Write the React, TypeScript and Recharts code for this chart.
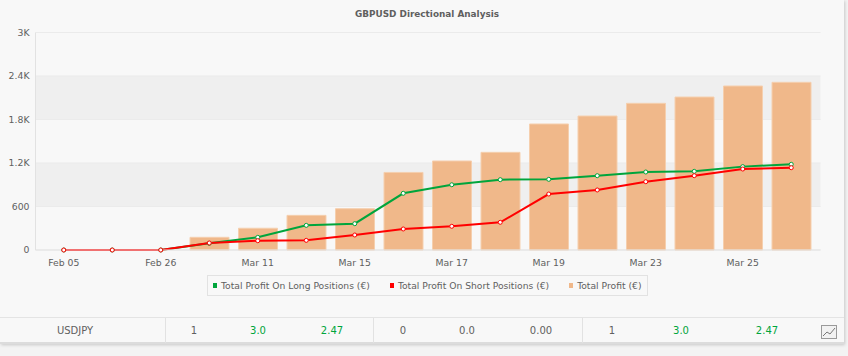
import {
  ComposedChart,
  Bar,
  Line,
  XAxis,
  YAxis,
  CartesianGrid,
  Legend,
} from 'recharts'

const DATES = ['Feb 05', 'Feb 19', 'Feb 26', 'Mar 04', 'Mar 11', 'Mar 14', 'Mar 15', 'Mar 16', 'Mar 17', 'Mar 18', 'Mar 19', 'Mar 22', 'Mar 23', 'Mar 24', 'Mar 25', 'Mar 26']
const LONG_PROFIT = [0, 0, 0, 92, 175, 340, 363, 782, 900, 970, 975, 1025, 1076, 1085, 1150, 1182]
const SHORT_PROFIT = [0, 0, 0, 97, 128, 133, 207, 290, 327, 382, 772, 828, 942, 1025, 1117, 1135]
const TOTAL_PROFIT = [0, 0, 0, 175, 300, 478, 570, 1070, 1228, 1347, 1738, 1848, 2023, 2110, 2262, 2313]
const Y_TICKS = [0, 600, 1200, 1800, 2400, 3000]
const Y_LABELS = ['0', '600', '1.2K', '1.8K', '2.4K', '3K']

const LEGEND_ITEMS = [
  { label: 'Total Profit On Long Positions (€)', color: '#00a53c' },
  { label: 'Total Profit On Short Positions (€)', color: '#ff0000' },
  { label: 'Total Profit (€)', color: '#f0b88a' },
]

const ROW_NAME = 'USDJPY'
const ROW_CELLS = ['1', '3.0', '2.47', '0', '0.0', '0.00', '1', '3.0', '2.47']
const ROW_CENTERS = [194, 258, 332, 403, 467, 541, 612, 681, 767]
const ROW_DIVIDERS = [165, 373, 582]

const FONT = '"DejaVu Sans", sans-serif'
const TEXT = '#5f5f5f'
const SMALL = 9.3

const data = DATES.map((date, i) => ({
  date,
  long: LONG_PROFIT[i],
  short: SHORT_PROFIT[i],
  total: TOTAL_PROFIT[i],
}))

function ChartLegend() {
  return (
    <div
      style={{
        display: 'flex',
        alignItems: 'center',
        gap: 20,
        boxSizing: 'border-box',
        width: 441,
        height: 21,
        padding: '0 5px',
        border: '1px solid #e2e2e2',
        fontFamily: FONT,
        fontSize: 9.2,
        color: TEXT,
        whiteSpace: 'nowrap',
      }}
    >
      {LEGEND_ITEMS.map((item) => (
        <span key={item.label} style={{ display: 'flex', alignItems: 'center' }}>
          <span style={{ width: 4, height: 5, marginRight: 4, background: item.color }} />
          {item.label}
        </span>
      ))}
    </div>
  )
}

function TableRow() {
  const cell = (text: string, x: number) => (
    <span
      key={`${text}-${x}`}
      style={{
        position: 'absolute',
        left: x - 40,
        width: 80,
        top: 7,
        textAlign: 'center',
        color: text.includes('.') && text !== '0.0' && text !== '0.00' ? '#00a53c' : TEXT,
      }}
    >
      {text}
    </span>
  )
  return (
    <div
      style={{
        position: 'absolute',
        left: 0,
        top: 317,
        width: 844,
        height: 27,
        boxSizing: 'border-box',
        borderTop: '1px solid #e4e4e4',
        borderBottom: '2px solid #dcdcdc',
        fontFamily: FONT,
        fontSize: 10,
      }}
    >
      {cell(ROW_NAME, 75)}
      {ROW_CELLS.map((text, i) => cell(text, ROW_CENTERS[i]))}
      {ROW_DIVIDERS.map((x) => (
        <span key={x} style={{ position: 'absolute', left: x, top: 0, width: 1, height: 25, background: '#e2e2e2' }} />
      ))}
      {/* small chart button at the end of the row */}
      <svg width={16} height={14} style={{ position: 'absolute', left: 821, top: 7 }}>
        <rect x={0.5} y={0.5} width={15} height={13} fill="#f2f2f2" stroke="#9a9a9a" />
        <path d="M2 11 L6 7 L9 9 L14 3" fill="none" stroke="#777" />
      </svg>
    </div>
  )
}

export default function App() {
  return (
    <div style={{ position: 'absolute', left: 0, top: 0, width: 848, height: 356, background: '#f3f3f3', overflow: 'hidden' }}>
      <div
        style={{
          position: 'absolute',
          left: 0,
          top: 0,
          width: 844,
          height: 344,
          background: '#f8f8f8',
          boxShadow: '1px 1px 3px rgba(0,0,0,0.18)',
        }}
      />

      <div style={{ position: 'absolute', left: 0, top: 0 }}>
        <ComposedChart
          width={848}
          height={356}
          data={data}
          barCategoryGap={0}
          margin={{ top: 32.5, right: 27.5, bottom: 55, left: 5.5 }}
        >
          {/* first fill is the strip above the plot, grid adds it for the half pixel top */}
          <CartesianGrid
            vertical={false}
            stroke="#ebebeb"
            horizontalFill={['transparent', '#f8f8f8', '#efefef', '#f8f8f8', '#efefef', '#f8f8f8']}
            fillOpacity={1}
          />
          <XAxis
            dataKey="date"
            height={30}
            interval={1}
            padding={{ left: 4, right: 5 }}
            tickLine={false}
            axisLine={{ stroke: '#e2e2e2' }}
            tick={{ fontFamily: FONT, fontSize: SMALL, fill: TEXT }}
            tickMargin={3}
          />
          <XAxis
            xAxisId="frame"
            orientation="top"
            dataKey="date"
            height={0}
            tick={false}
            tickLine={false}
            axisLine={{ stroke: '#e2e2e2' }}
          />
          <YAxis
            width={30}
            domain={[0, 3000]}
            ticks={Y_TICKS}
            tickFormatter={(v: number) => Y_LABELS[Y_TICKS.indexOf(v)]}
            tickLine={false}
            axisLine={{ stroke: '#e2e2e2' }}
            tick={{ fontFamily: FONT, fontSize: SMALL, fill: TEXT }}
            tickMargin={0}
          />
          <YAxis
            yAxisId="frame"
            orientation="right"
            width={0}
            domain={[0, 3000]}
            tick={false}
            tickLine={false}
            axisLine={{ stroke: '#e2e2e2' }}
          />
          <Bar
            dataKey="total"
            name="Total Profit (€)"
            barSize={39}
            fill="#f0b88a"
            stroke="#f5cfae"
            isAnimationActive={false}
          />
          <Line
            dataKey="long"
            name="Total Profit On Long Positions (€)"
            type="linear"
            stroke="#00a53c"
            strokeWidth={2}
            dot={{ r: 2, fill: '#fff', stroke: '#00a53c', strokeWidth: 1 }}
            isAnimationActive={false}
          />
          <Line
            dataKey="short"
            name="Total Profit On Short Positions (€)"
            type="linear"
            stroke="#ff0000"
            strokeWidth={2}
            dot={{ r: 2, fill: '#fff', stroke: '#ff0000', strokeWidth: 1 }}
            isAnimationActive={false}
          />
          <Legend
            content={<ChartLegend />}
            wrapperStyle={{ position: 'absolute', left: 207, top: 275, width: 441, height: 21 }}
          />
        </ComposedChart>
      </div>

      <div
        style={{
          position: 'absolute',
          left: 0,
          top: 9,
          width: 854,
          textAlign: 'center',
          fontFamily: FONT,
          fontSize: 8.9,
          fontWeight: 700,
          color: TEXT,
        }}
      >
        GBPUSD Directional Analysis
      </div>

      <TableRow />
    </div>
  )
}
